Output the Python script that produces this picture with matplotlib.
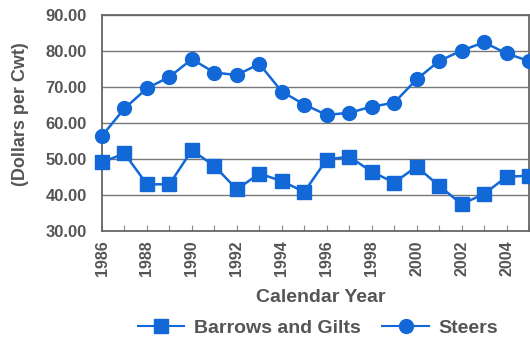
import matplotlib
matplotlib.use("Agg")
import matplotlib.pyplot as plt
from matplotlib.lines import Line2D

years = list(range(1986, 2006))
steers = [56.4, 64.0, 69.6, 72.8, 77.7, 74.0, 73.3, 76.4, 68.7, 65.1,
          62.2, 62.8, 64.5, 65.6, 72.1, 77.2, 80.1, 82.4, 79.3, 77.2]
barrows = [49.0, 51.5, 42.9, 42.9, 52.4, 48.0, 41.5, 45.9, 43.8, 40.8,
           49.8, 50.6, 46.4, 43.4, 47.8, 42.5, 37.4, 40.2, 45.0, 45.3]
yticks = [30, 40, 50, 60, 70, 80, 90]
xticks = list(range(1986, 2005, 2))

blue = "#1268d6"
gray = "#555555"
plt.rcParams['font.family'] = ['Liberation Sans', 'DejaVu Sans']

fig = plt.figure(figsize=(5.30, 3.41), dpi=100)
ax = fig.add_axes([102/530, (341-230.7)/341, (529-102)/530, 215.7/341])

ax.plot(years, barrows, color=blue, lw=1.8, marker='s', ms=9.5, clip_on=False,
        label='Barrows and Gilts', zorder=3)
ax.plot(years, steers, color=blue, lw=1.8, marker='o', ms=10, clip_on=False,
        label='Steers', zorder=3)

ax.set_xlim(1986, 2005)
ax.set_ylim(30, 90)
ax.set_yticks(yticks)
ax.set_yticklabels([f"{v:.2f}" for v in yticks], fontsize=12, fontweight='bold', color=gray)
ax.set_xticks(years, minor=False)
ax.set_xticklabels([str(y) if y in xticks else '' for y in years], rotation=90,
                   fontsize=11.5, fontweight='bold', color=gray)
ax.tick_params(axis='x', direction='in', length=4, color='#888888', pad=7)
ax.tick_params(axis='y', length=0, pad=11)
ax.grid(axis='y', color='#777777', lw=1)
ax.set_axisbelow(True)
for s in ax.spines.values():
    s.set_color('#666666')
    s.set_linewidth(1.3)

ax.set_xlabel('Calendar Year', fontsize=14, fontweight='bold', color=gray)
ax.xaxis.set_label_coords(0.513, -0.27)
ax.set_ylabel('(Dollars per Cwt)', fontsize=13, fontweight='bold', color=gray, va='center')
ax.yaxis.set_label_coords(-0.192, 0.54)

handles = [Line2D([], [], color=blue, lw=1.5, marker='s', ms=10),
           Line2D([], [], color=blue, lw=1.5, marker='o', ms=10)]
fig.legend(handles, ['Barrows and Gilts', 'Steers'], loc='center', bbox_to_anchor=(0.6, 0.038),
           ncol=2, frameon=False, prop={'size': 14, 'weight': 'bold'}, labelcolor=gray,
           handlelength=2.4, columnspacing=1.1, handletextpad=0.5)

fig.savefig('out.png', dpi=100)
